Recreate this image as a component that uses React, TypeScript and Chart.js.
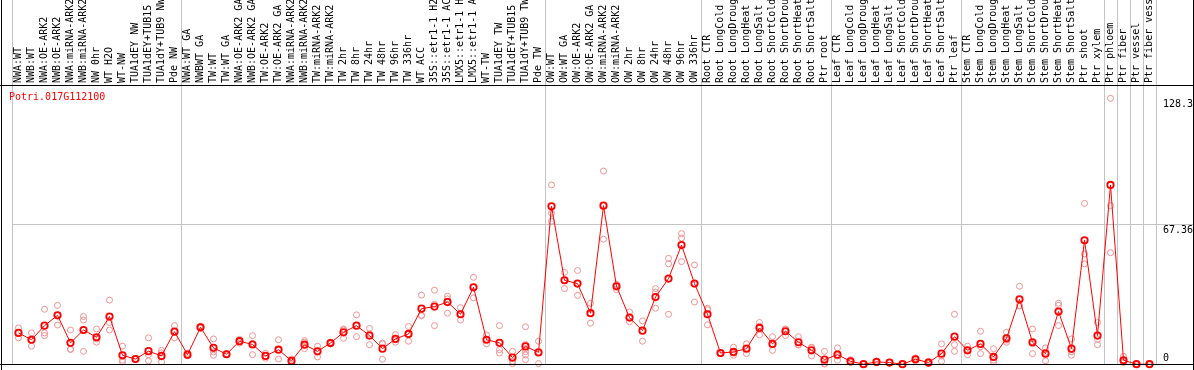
import React, { useEffect, useRef } from 'react';
import { Chart, registerables } from 'chart.js';

Chart.register(...registerables);

const geneLabel = 'Potri.017G112100';

const categories = [
  'NWA:WT', 'NWB:WT', 'NWA:OE-ARK2', 'NWB:OE-ARK2', 'NWA:miRNA-ARK2', 'NWB:miRNA-ARK2', 'NW 0hr', 'WT H2O', 'WT-NW', 'TUA1dEY NW',
  'TUA1dEY+TUB15 NW', 'TUA1dY+TUB9 NW', 'Pde NW', 'NWA:WT GA', 'NWBWT GA', 'TW:WT', 'TW:WT GA', 'NWA:OE-ARK2 GA', 'NWB:OE-ARK2 GA', 'TW:OE-ARK2',
  'TW:OE-ARK2 GA', 'NWA:miRNA-ARK2 GA', 'NWB:miRNA-ARK2 GA', 'TW:miRNA-ARK2', 'TW:miRNA-ARK2 GA', 'TW 2hr', 'TW 8hr', 'TW 24hr', 'TW 48hr', 'TW 96hr',
  'TW 336hr', 'WT ACC', '35S::etr1-1 H2O', '35S::etr1-1 ACC', 'LMX5::etr1-1 H2O', 'LMX5::etr1-1 ACC', 'WT-TW', 'TUA1dEY TW', 'TUA1dEY+TUB15 TW', 'TUA1dY+TUB9 TW',
  'Pde TW', 'OW:WT', 'OW:WT GA', 'OW:OE-ARK2', 'OW:OE-ARK2 GA', 'OW:miRNA-ARK2', 'OW:miRNA-ARK2 GA', 'OW 2hr', 'OW 8hr', 'OW 24hr',
  'OW 48hr', 'OW 96hr', 'OW 336hr', 'Root CTR', 'Root LongCold', 'Root LongDrought', 'Root LongHeat', 'Root LongSalt', 'Root ShortCold', 'Root ShortDrought',
  'Root ShortHeat', 'Root ShortSalt', 'Ptr root', 'Leaf CTR', 'Leaf LongCold', 'Leaf LongDrought', 'Leaf LongHeat', 'Leaf LongSalt', 'Leaf ShortCold', 'Leaf ShortDrought',
  'Leaf ShortHeat', 'Leaf ShortSalt', 'Ptr leaf', 'Stem CTR', 'Stem LongCold', 'Stem LongDrought', 'Stem LongHeat', 'Stem LongSalt', 'Stem ShortCold', 'Stem ShortDrought',
  'Stem ShortHeat', 'Stem ShortSalt', 'Ptr shoot', 'Ptr xylem', 'Ptr phloem', 'Ptr fiber', 'Ptr vessel', 'Ptr fiber vessel',
];

const meanValues = [
  15.1, 11.8, 18.6, 23.6, 10.3, 16.5, 13.0, 23.0, 4.3, 2.5,
  6.3, 4.0, 15.7, 4.6, 17.8, 7.9, 4.8, 11.1, 9.5, 4.0,
  7.0, 1.6, 9.4, 6.2, 10.2, 15.4, 18.6, 13.8, 7.5, 12.2,
  14.6, 26.8, 27.8, 30.0, 24.1, 37.1, 11.8, 10.3, 3.2, 8.6,
  5.7, 76.2, 40.5, 38.9, 24.6, 76.5, 37.6, 22.5, 16.2, 32.4,
  41.3, 57.5, 38.9, 24.1, 5.4, 5.9, 7.5, 17.5, 9.8, 15.9,
  10.6, 6.7, 2.2, 4.6, 1.4, 0.0, 1.1, 0.8, 0.0, 2.4,
  0.8, 5.1, 13.3, 6.7, 9.8, 3.5, 12.5, 31.3, 10.6, 5.1,
  25.4, 7.5, 59.8, 13.8, 86.5, 1.9, 0.0, 0.0,
];

const rep1 = [
  17.5, 15.1, 26.5, 28.4, 16.5, 23.0, 17.0, 30.9, 8.7, 2.5,
  12.7, 6.7, 18.6, 5.3, 18.3, 12.2, 5.1, 12.0, 13.8, 5.3,
  11.8, 2.5, 11.4, 8.7, 10.6, 17.0, 23.8, 17.3, 10.2, 14.3,
  18.2, 33.3, 35.7, 32.8, 27.3, 41.9, 14.1, 18.6, 6.2, 18.1,
  11.1, 86.5, 44.3, 45.2, 29.4, 93.2, 38.6, 25.2, 20.9, 36.5,
  51.1, 63.0, 47.9, 27.0, 5.4, 8.2, 9.8, 20.1, 13.3, 17.0,
  13.3, 8.2, 6.2, 7.9, 2.2, 0, 1.4, 0.8, 0, 3.0,
  1.4, 9.8, 24.1, 8.7, 15.9, 7.5, 15.4, 37.6, 17.0, 7.9,
  29.4, 12.2, 77.6, 20.1, 128.3, 3.8, 0, 0,
];

const rep2 = [
  12.7, 8.7, 15.1, 18.9, 7.1, 21.3, 12.2, 20.1, 1.9, 2.3,
  1.6, 5.5, 12.7, 4.0, 17.3, 5.9, 4.5, 10.2, 4.6, 2.9,
  2.5, 1.1, 7.5, 3.5, 9.8, 12.5, 13.3, 9.4, 2.4, 10.6,
  11.1, 23.6, 28.9, 31.5, 21.3, 32.0, 9.8, 7.0, 1.4, 9.5,
  0.3, 72.8, 36.5, 33.2, 19.8, 60.3, 36.0, 20.5, 11.1, 27.0,
  48.4, 60.9, 30.0, 19.0, 5.2, 4.3, 5.1, 14.1, 6.7, 13.8,
  9.4, 4.0, 0.3, 1.9, 0.9, 0, 0.8, 0.8, 0, 1.7,
  0.3, 1.4, 9.4, 4.6, 5.1, 1.1, 10.6, 28.1, 5.1, 1.6,
  28.4, 4.3, 53.2, 9.4, 76.5, 1.1, 0, 0,
];

const rep3 = [
  15.1, 11.6, 13.8, 23.5, 7.3, 6.2, 10.6, 16.5, 1.1, 2.8,
  4.6, 3.5, 15.7, 4.5, 17.8, 4.3, 4.8, 11.1, 10.0, 4.0,
  7.0, 1.4, 10.6, 6.2, 10.2, 16.5, 18.6, 14.6, 9.8, 11.8,
  14.6, 23.4, 18.6, 24.6, 24.1, 37.1, 11.8, 5.4, 0.3, 7.5,
  5.7, 69.0, 40.5, 38.9, 24.6, 76.5, 37.6, 22.5, 16.2, 34.8,
  24.1, 49.5, 38.9, 26.3, 5.6, 5.3, 7.5, 18.3, 9.5, 16.9,
  9.2, 7.9, 0.1, 4.0, 1.1, 0, 1.1, 0.8, 0, 2.5,
  0.7, 4.0, 6.2, 6.7, 8.4, 2.0, 11.6, 28.3, 9.8, 5.8,
  18.6, 6.0, 48.4, 11.9, 53.8, 0.8, 0, 0,
];

const extraRepCategories = ['TUA1dY+TUB9 NW', 'TUA1dY+TUB9 TW', 'TUA1dY+TUB9 TW', 'TUA1dY+TUB9 TW'];
const extraRepValues = [1.1, 6.0, 4.5, 2.2];

const yTickValues = [0, 67.36, 128.3];
const yAxisMax = 134.72;
const gridLineValue = 67.36;

const groupStartCategories = ['NWA:WT', 'NWA:WT GA', 'OW:WT', 'Root CTR', 'Leaf CTR', 'Stem CTR', 'Ptr phloem', 'Ptr fiber', 'Ptr vessel', 'Ptr fiber vessel'];

export default function App() {
  const canvasRef = useRef<HTMLCanvasElement | null>(null);

  useEffect(() => {
    const canvas = canvasRef.current;
    if (!canvas) return;
    const fontFamily = "'DejaVu Sans Mono', 'Liberation Mono', monospace";
    const gridGray = '#c4c4c4';
    const repColor = 'rgb(238,146,146)';
    const groupStarts = groupStartCategories.map((c) => categories.indexOf(c));

    const decor = {
      id: 'decor',
      afterDraw(chart: any) {
        const c = chart.ctx as CanvasRenderingContext2D;
        const { top, bottom, left, right } = chart.chartArea;
        const W = chart.width;
        const H = chart.height;
        const yScale = chart.scales.y;
        c.save();
        c.strokeStyle = '#000';
        c.lineWidth = 1;
        c.beginPath();
        c.moveTo(0, Math.floor(top) + 0.5);
        c.lineTo(W, Math.floor(top) + 0.5);
        c.moveTo(0, Math.floor(bottom) + 0.5);
        c.lineTo(W, Math.floor(bottom) + 0.5);
        c.moveTo(1.5, 0);
        c.lineTo(1.5, H);
        c.moveTo(W - 0.5, 0);
        c.lineTo(W - 0.5, H);
        c.stroke();

        c.font = `10px ${fontFamily}`;
        c.fillStyle = '#000';
        c.textAlign = 'left';
        c.textBaseline = 'middle';
        for (const v of yTickValues) {
          const py = yScale.getPixelForValue(v);
          c.fillText(String(v), right + 7, py + (v === 0 ? -6 : 6));
        }

        c.fillStyle = '#ff0000';
        c.fillText(geneLabel, left - 3, top + 12);
        c.restore();
      },
    };

    const chart = new Chart(canvas, {
      type: 'line',
      data: {
        labels: categories,
        datasets: [
          {
            label: geneLabel,
            data: meanValues,
            borderColor: '#ff0000',
            borderWidth: 1,
            pointRadius: 3.2,
            pointBorderWidth: 1.8,
            pointBorderColor: '#ff0000',
            pointBackgroundColor: 'rgba(0,0,0,0)',
            tension: 0,
            order: 0,
            clip: false,
          } as any,
          ...[rep1, rep2, rep3].map((r, k) => ({
            label: `rep${k + 1}`,
            data: r,
            showLine: false,
            pointRadius: 3,
            pointBorderWidth: 1,
            pointBorderColor: repColor,
            pointBackgroundColor: 'rgba(0,0,0,0)',
            order: 1,
            clip: false,
          })),
          {
            label: 'extra reps',
            data: extraRepCategories.map((c, i) => ({ x: c, y: extraRepValues[i] })),
            showLine: false,
            pointRadius: 3,
            pointBorderWidth: 1,
            pointBorderColor: repColor,
            pointBackgroundColor: 'rgba(0,0,0,0)',
            order: 1,
            clip: false,
          } as any,
        ],
      },
      options: {
        animation: false,
        responsive: false,
        layout: { padding: { left: 12, right: 0, top: 0, bottom: 2 } },
        plugins: {
          legend: { display: false },
          tooltip: { enabled: false },
          title: { display: false },
        },
        scales: {
          x: {
            type: 'category',
            position: 'top',
            offset: true,
            afterFit: (scale: any) => {
              scale.height = 85;
            },
            border: { display: false },
            grid: {
              offset: true,
              drawTicks: true,
              tickLength: 85,
              lineWidth: 1,
              color: (ctx: any) =>
                ctx.index === undefined || groupStarts.includes(ctx.index) ? gridGray : 'rgba(0,0,0,0)',
            },
            ticks: {
              autoSkip: false,
              minRotation: 90,
              maxRotation: 90,
              padding: -83,
              labelOffset: 12,
              color: '#000',
              font: { family: fontFamily, size: 10 },
            },
          },
          y: {
            type: 'linear',
            position: 'right',
            min: 0,
            max: yAxisMax,
            afterFit: (scale: any) => {
              scale.width = 38;
            },
            afterBuildTicks: (scale: any) => {
              scale.ticks = yTickValues.map((v) => ({ value: v }));
            },
            border: { display: false },
            grid: {
              drawTicks: true,
              tickLength: 38,
              color: (ctx: any) => (ctx.tick && ctx.tick.value === gridLineValue ? gridGray : 'rgba(0,0,0,0)'),
            },
            ticks: { display: false },
          },
        },
      } as any,
      plugins: [decor],
    });

    return () => chart.destroy();
  }, []);

  return (
    <div style={{ position: 'absolute', left: 0, top: 0, width: 1194, height: 370 }}>
      <canvas ref={canvasRef} width={1194} height={370} style={{ display: 'block' }} />
    </div>
  );
}
